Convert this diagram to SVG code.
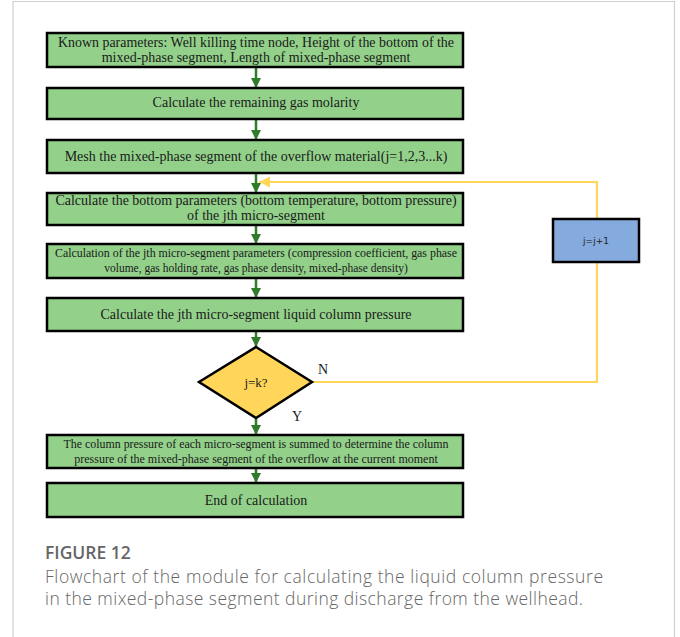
<svg xmlns="http://www.w3.org/2000/svg" width="680" height="637" viewBox="0 0 680 637">
  <defs>
    <marker id="ag" viewBox="0 0 10 10" refX="10" refY="5" markerWidth="4" markerHeight="4" orient="auto" markerUnits="strokeWidth">
      <path d="M0,0 L10,5 L0,10 Z" fill="#2f7d2b"/>
    </marker>
    <marker id="ay" viewBox="0 0 10 10" refX="10" refY="5" markerWidth="5" markerHeight="5" orient="auto" markerUnits="strokeWidth">
      <path d="M0,0 L10,5 L0,10 Z" fill="#ffd65a"/>
    </marker>
  </defs>
  <style>
    .box { fill: #93d18a; stroke: #000; stroke-width: 2.5; }
    .t { font-family: "Liberation Serif", "Times New Roman", serif; fill: #1a1a1a; text-anchor: middle; }
    .g { stroke: #2f7d2b; stroke-width: 2.5; fill: none; }
    .y { stroke: #ffd65a; stroke-width: 2.2; fill: none; }
    .cap { font-family: "Open Sans", "Noto Sans", sans-serif; fill: #666; }
  </style>

  <!-- outer frame -->
  <path d="M13,637 V1.5 H674.5 V637" fill="none" stroke="#d0d0d0" stroke-width="1.2"/>

  <!-- connectors -->
  <g id="connectors">
    <line class="g" x1="256" y1="67" x2="256" y2="88" marker-end="url(#ag)"/>
    <line class="g" x1="256" y1="119" x2="256" y2="140" marker-end="url(#ag)"/>
    <line class="g" x1="256" y1="173" x2="256" y2="193" marker-end="url(#ag)"/>
    <line class="g" x1="256" y1="225" x2="256" y2="244" marker-end="url(#ag)"/>
    <line class="g" x1="256" y1="278" x2="256" y2="298" marker-end="url(#ag)"/>
    <line class="g" x1="256" y1="331" x2="256" y2="347" marker-end="url(#ag)"/>
    <line class="g" x1="256" y1="418" x2="256" y2="435" marker-end="url(#ag)"/>
    <line class="g" x1="256" y1="468" x2="256" y2="483" marker-end="url(#ag)"/>
    <polyline class="y" points="312,382 597,382 597,182 259,182" marker-end="url(#ay)"/>
  </g>

  <g id="n1">
    <rect class="box" x="47" y="33" width="416" height="34"/>
    <text class="t" x="256" y="47" font-size="14" textLength="396" lengthAdjust="spacingAndGlyphs">Known parameters: Well killing time node, Height of the bottom of the</text>
    <text class="t" x="256" y="62" font-size="14">mixed-phase segment, Length of mixed-phase segment</text>
  </g>
  <g id="n2">
    <rect class="box" x="47" y="88" width="416" height="31"/>
    <text class="t" x="256" y="107" font-size="14">Calculate the remaining gas molarity</text>
  </g>
  <g id="n3">
    <rect class="box" x="47" y="140" width="416" height="33"/>
    <text class="t" x="256" y="161" font-size="14">Mesh the mixed-phase segment of the overflow material(j=1,2,3...k)</text>
  </g>
  <g id="n4">
    <rect class="box" x="47" y="193" width="416" height="32"/>
    <text class="t" x="256" y="205" font-size="14">Calculate the bottom parameters (bottom temperature, bottom pressure)</text>
    <text class="t" x="256" y="220" font-size="14">of the  jth micro-segment</text>
  </g>
  <g id="n5">
    <rect class="box" x="47" y="244" width="416" height="34"/>
    <text class="t" x="256" y="257" font-size="11.5" textLength="402" lengthAdjust="spacingAndGlyphs">Calculation of the jth micro-segment parameters (compression coefficient, gas phase</text>
    <text class="t" x="256" y="272" font-size="11.5">volume, gas holding rate, gas phase density, mixed-phase density)</text>
  </g>
  <g id="n6">
    <rect class="box" x="47" y="298" width="416" height="33"/>
    <text class="t" x="256" y="319" font-size="14">Calculate the jth micro-segment liquid column pressure</text>
  </g>
  <g id="n7">
    <path d="M256,347 L312,382 L256,418 L199,382 Z" fill="#ffd65a" stroke="#000" stroke-width="2.5"/>
    <text class="t" x="256" y="387" font-size="13">j=k?</text>
    <text class="t" x="323" y="374" font-size="14">N</text>
    <text class="t" x="297" y="421" font-size="14">Y</text>
  </g>
  <g id="n8">
    <rect class="box" x="47" y="435" width="416" height="33"/>
    <text class="t" x="256" y="448" font-size="12" textLength="385" lengthAdjust="spacingAndGlyphs">The column pressure of each micro-segment is summed to determine the column</text>
    <text class="t" x="256" y="463" font-size="12">pressure of the mixed-phase segment of the overflow at the current moment</text>
  </g>
  <g id="n9">
    <rect class="box" x="47" y="483" width="416" height="34"/>
    <text class="t" x="256" y="505" font-size="14">End of calculation</text>
  </g>
  <g id="n10">
    <rect x="553" y="219" width="86" height="43" fill="#85aadd" stroke="#000" stroke-width="2.5"/>
    <text x="596" y="244" font-size="9" font-family="'DejaVu Sans', sans-serif" fill="#222" text-anchor="middle">j=j+1</text>
  </g>

  <!-- caption -->
  <text class="cap" x="45" y="559" font-size="17.5" font-weight="600" fill="#555">FIGURE 12</text>
  <text class="cap" x="45" y="583" font-size="17.5" font-weight="300" textLength="558" lengthAdjust="spacing">Flowchart of the module for calculating the liquid column pressure</text>
  <text class="cap" x="45" y="605" font-size="17.5" font-weight="300" textLength="538" lengthAdjust="spacing">in the mixed-phase segment during discharge from the wellhead.</text>
</svg>
